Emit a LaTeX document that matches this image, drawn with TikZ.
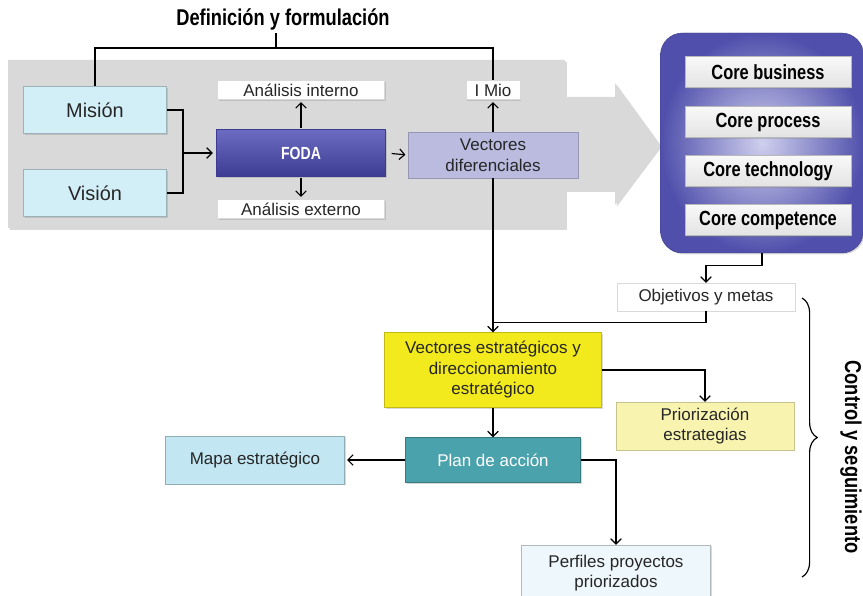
\documentclass[tikz,border=0pt]{standalone}
\usepackage{fontspec}
\setmainfont{Liberation Sans}
\newfontfamily\condfont[FakeStretch=0.8]{Liberation Sans}
\usetikzlibrary{arrows.meta}
\usetikzlibrary{shadows,decorations.pathreplacing}
\definecolor{gbg}{HTML}{D9D9D9}
\definecolor{cyanfill}{HTML}{D2EEF6}
\definecolor{fodatop}{HTML}{6C6CC2}
\definecolor{fodabot}{HTML}{3C3C94}
\definecolor{vdif}{HTML}{BBBBE0}
\definecolor{corein}{HTML}{CFCFEE}
\definecolor{coreout}{HTML}{5050AC}
\definecolor{yell}{HTML}{F2EA1C}
\definecolor{pyell}{HTML}{F8F4B0}
\definecolor{plancol}{HTML}{4AA2AC}
\definecolor{mapcol}{HTML}{C2E7F3}
\definecolor{perfcol}{HTML}{EEF7FB}
\definecolor{txt}{HTML}{262626}

\begin{document}
\begin{tikzpicture}[x=0.03cm, y=-0.03cm, line width=1pt,
		font=\fontsize{14.5}{17.5}\selectfont,
		sz/.style 2 args={minimum width=#1*0.03cm, minimum height=#2*0.03cm},
		boxbase/.style={inner sep=0pt, align=center, text=txt, line width=0.4pt,
			drop shadow={shadow xshift=1.2pt, shadow yshift=-1.2pt, opacity=0.3}},
		misbox/.style={boxbase, fill=cyanfill, draw=cyanfill!75!black},
		whitebox/.style={boxbase, fill=white, draw=gray!30},
		fodabox/.style={boxbase, top color=fodatop, bottom color=fodabot, draw=fodabot,
			text=white, font=\condfont\bfseries\fontsize{15}{17}\selectfont},
		vdifbox/.style={boxbase, fill=vdif, draw=vdif!80!black},
		corebox/.style={boxbase, rounded corners=0.66cm, inner color=corein, outer color=coreout,
			draw=coreout!80!black},
		coreitem/.style={boxbase, top color=gray!5, bottom color=gray!22, draw=gray!55, text=black,
			font=\condfont\bfseries\fontsize{17.5}{19}\selectfont},
		yellbox/.style={boxbase, fill=yell, draw=yell!80!black},
		prbox/.style={boxbase, fill=pyell, draw=pyell!80!black},
		planbox/.style={boxbase, fill=plancol, draw=plancol!75!black, text=white},
		mapbox/.style={boxbase, fill=mapcol, draw=mapcol!75!black},
		perfbox/.style={boxbase, fill=perfcol, draw=perfcol!75!black},
		headfont/.style={font=\condfont\bfseries\fontsize{19.5}{21}\selectfont, text=black},
		conn/.style={-{Straight Barb[length=4.5pt,width=9pt]}}]

	\useasboundingbox (0,0) rectangle (863,596);

	\fill[gbg, drop shadow={shadow xshift=1.5pt, shadow yshift=-1.5pt, opacity=0.3}]
		(8,60) -- (565,60) -- (565,97) -- (615,97) -- (615,83) -- (660,145)
		-- (615,205) -- (615,190) -- (565,190) -- (565,228) -- (8,228) -- cycle;

	\node[headfont] (defin) at (283,19) {Definición y formulación};
	\coordinate (brk) at (276,48);

	\node[misbox, sz={143}{47}] (mision) at (95,110) {\fontsize{17}{19}\selectfont Misión};
	\node[misbox, sz={143}{47}] (vision) at (95,193) {\fontsize{17}{19}\selectfont Visión};
	\coordinate (join) at (183,153);

	\node[fodabox, sz={169}{47}] (foda) at (301,153) {FODA};
	\node[whitebox, sz={167}{19}] (interno) at (301,90) {Análisis interno};
	\node[whitebox, sz={167}{19}] (externo) at (301,209) {Análisis externo};

	\node[vdifbox, sz={170}{46}] (vecdif) at (493,155) {Vectores\\diferenciales};
	\node[whitebox, sz={54}{19}] (mio) at (493,90) {I Mio};

	\node[corebox, sz={203}{220}] (core) at (762,143) {};
	\node[coreitem, sz={166}{31}] (business) at (768,72) {Core business};
	\node[coreitem, sz={166}{31}] (process) at (768,122) {Core process};
	\node[coreitem, sz={166}{31}] (technology) at (768,171) {Core technology};
	\node[coreitem, sz={166}{31}] (competence) at (768,220) {Core competence};

	\node[whitebox, sz={178}{28}] (objetivos) at (706,297) {Objetivos y metas};
	\node[yellbox, sz={217}{75}] (vecest) at (493,370) {Vectores estratégicos y\\direccionamiento\\estratégico};
	\node[prbox, sz={178}{48}] (prior) at (705,426) {Priorización\\estrategias};
	\node[planbox, sz={175}{45}] (plan) at (493,460) {Plan de acción};
	\node[mapbox, sz={179}{48}] (mapa) at (255,460) {Mapa estratégico};
	\node[perfbox, sz={189}{56}] (perfiles) at (616,573) {Perfiles proyectos\\priorizados};

	\path (vecdif.south) ++(0,144) coordinate (merge);
	\coordinate (bracetop) at (802,298);
	\coordinate (bracebot) at (802,577);
	\node[headfont, rotate=-90] (control) at (851,457) {Control y seguimiento};

	\draw (brk) -- ++(0,-15);
	\draw (mision.north) -- (mision.north |- brk) -- (mio.north |- brk) -- (mio.north);

	\draw (mision.east) -| (join) |- (vision.east);
	\draw[conn, shorten >=3pt] (join) -- (foda.west);
	\draw[conn, shorten >=2pt, shorten <=1pt] (foda.north) -- (interno.south);
	\draw[conn, shorten >=2pt, shorten <=1pt] (foda.south) -- (externo.north);
	\draw[conn, shorten >=2pt, shorten <=5pt] (foda.east) -- (vecdif.west);
	\draw[conn, shorten >=2pt] (vecdif.north) -- (mio.south);

	\draw[conn] (core.south) -- ++(0,12) -| (objetivos.north);
	\draw (objetivos.south) |- (merge);
	\draw[conn] (vecdif.south) -- (vecest.north);

	\draw[conn] (vecest.east) -| (prior.north);
	\draw[conn] (vecest.south) -- (plan.north);
	\draw[conn, shorten >=2pt] (plan.west) -- (mapa.east);
	\draw[conn] (plan.east) -| (perfiles.north);

	\draw[decorate, decoration={brace, amplitude=13pt}] (bracetop) -- (bracebot);

\end{tikzpicture}
\end{document}
